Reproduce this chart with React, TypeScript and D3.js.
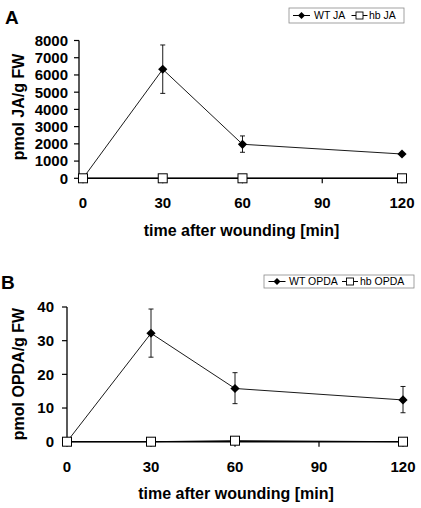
import React from "react";
import * as d3 from "d3";

// ---------- data ----------
const timePoints = [0, 30, 60, 120];
const xTicks = [0, 30, 60, 90, 120];

const wtJA = [0, 6330, 1975, 1410];
const wtJAUpper = [0, 7740, 2460, 1410];
const wtJALower = [0, 4930, 1510, 1410];
const hbJA = [0, 0, 0, 0];
const jaTicks = [0, 1000, 2000, 3000, 4000, 5000, 6000, 7000, 8000];

const wtOPDA = [0, 32.2, 15.8, 12.4];
const wtOPDAUpper = [0, 39.4, 20.5, 16.4];
const wtOPDALower = [0, 25.1, 11.3, 8.6];
const hbOPDA = [0, 0, 0.3, 0];
const opdaTicks = [0, 10, 20, 30, 40];

const FONT = "'Liberation Sans', Arial, Helvetica, sans-serif";

type PanelProps = {
  letter: string;
  letterX: number;
  letterY: number;
  yTitle: string;
  wt: number[];
  wtUp: number[];
  wtLo: number[];
  hb: number[];
  yTicks: number[];
  xDomainMin: number;
  axisX: number;
  xRight: number;
  yTop: number;
  yBottom: number;
  labelGap: number;
  titleCenterY: number;
  xTitleBaseline: number;
  legend: { x0: number; x1: number; y0: number; y1: number; wtSym: number; wtText: number; hbSym: number; hbText: number; wtLabel: string; hbLabel: string };
};

function Diamond({ cx, cy, r }: { cx: number; cy: number; r: number }) {
  return <path d={`M${cx},${cy - r}L${cx + r},${cy}L${cx},${cy + r}L${cx - r},${cy}Z`} fill="#000" />;
}

function Panel(p: PanelProps) {
  const x = d3.scaleLinear().domain([p.xDomainMin, 120]).range([p.axisX, p.xRight]);
  const y = d3.scaleLinear().domain([0, p.yTicks[p.yTicks.length - 1]]).range([p.yBottom, p.yTop]);
  const line = d3
    .line<number>()
    .x((_, i) => x(timePoints[i]))
    .y((d) => y(d));
  const lg = p.legend;
  const lgMid = (lg.y0 + lg.y1) / 2;
  return (
    <g>
      <text x={p.letterX} y={p.letterY} fontFamily={FONT} fontWeight="bold" fontSize={19}>
        {p.letter}
      </text>
      {/* legend */}
      <rect x={lg.x0} y={lg.y0} width={lg.x1 - lg.x0} height={lg.y1 - lg.y0} fill="#fff" stroke="#8a8a8a" strokeWidth={0.8} />
      <line x1={lg.wtSym - 8.5} x2={lg.wtSym + 8.5} y1={lgMid} y2={lgMid} stroke="#000" strokeWidth={1} />
      <Diamond cx={lg.wtSym} cy={lgMid} r={3.5} />
      <text x={lg.wtText} y={lgMid + 3.8} fontFamily={FONT} fontSize={10.5}>
        {lg.wtLabel}
      </text>
      <line x1={lg.hbSym - 8} x2={lg.hbSym + 8} y1={lgMid} y2={lgMid} stroke="#000" strokeWidth={1} />
      <rect x={lg.hbSym - 3.5} y={lgMid - 3.5} width={7} height={7} fill="#fff" stroke="#000" strokeWidth={0.9} />
      <text x={lg.hbText} y={lgMid + 3.8} fontFamily={FONT} fontSize={10.5}>
        {lg.hbLabel}
      </text>

      {/* y axis */}
      <line x1={p.axisX} x2={p.axisX} y1={y(p.yTicks[p.yTicks.length - 1])} y2={p.yBottom} stroke="#000" strokeWidth={1.3} />
      {p.yTicks.map((t) => (
        <g key={"y" + t}>
          <line x1={p.axisX - 5} x2={p.axisX} y1={y(t)} y2={y(t)} stroke="#000" strokeWidth={1.2} />
          <text x={p.axisX - p.labelGap} y={y(t)} dy="0.36em" textAnchor="end" fontFamily={FONT} fontWeight="bold" fontSize={15}>
            {t}
          </text>
        </g>
      ))}
      {/* x axis */}
      <line x1={p.axisX} x2={x(120)} y1={p.yBottom} y2={p.yBottom} stroke="#000" strokeWidth={1.6} />
      {xTicks.map((t) => (
        <g key={"x" + t}>
          <line x1={x(t)} x2={x(t)} y1={p.yBottom} y2={p.yBottom + 5} stroke="#000" strokeWidth={1.2} />
          <text x={x(t)} y={p.yBottom + 30} textAnchor="middle" fontFamily={FONT} fontWeight="bold" fontSize={15}>
            {t}
          </text>
        </g>
      ))}
      <text
        x={(p.axisX + p.xRight) / 2 + 1}
        y={p.xTitleBaseline}
        textAnchor="middle"
        fontFamily={FONT}
        fontWeight="bold"
        fontSize={16}
      >
        time after wounding [min]
      </text>
      <text
        transform={`translate(24,${p.titleCenterY}) rotate(-90)`}
        textAnchor="middle"
        fontFamily={FONT}
        fontWeight="bold"
        fontSize={16}
      >
        {p.yTitle}
      </text>

      {/* WT series */}
      <path d={line(p.wt) || ""} fill="none" stroke="#000" strokeWidth={0.9} />
      {timePoints.map((t, i) =>
        p.wtUp[i] !== p.wtLo[i] ? (
          <g key={"e" + t}>
            <line x1={x(t)} x2={x(t)} y1={y(p.wtUp[i])} y2={y(p.wtLo[i])} stroke="#000" strokeWidth={0.9} />
            <line x1={x(t) - 2.5} x2={x(t) + 2.5} y1={y(p.wtUp[i])} y2={y(p.wtUp[i])} stroke="#000" strokeWidth={0.9} />
            <line x1={x(t) - 2.5} x2={x(t) + 2.5} y1={y(p.wtLo[i])} y2={y(p.wtLo[i])} stroke="#000" strokeWidth={0.9} />
          </g>
        ) : null
      )}
      {timePoints.map((t, i) => (
        <Diamond key={"d" + t} cx={x(t)} cy={y(p.wt[i])} r={4.6} />
      ))}
      {/* hb series */}
      <path d={line(p.hb) || ""} fill="none" stroke="#000" strokeWidth={1} />
      {timePoints.map((t, i) => (
        <rect key={"s" + t} x={x(t) - 4.5} y={y(p.hb[i]) - 4.5} width={9} height={9} fill="#fff" stroke="#000" strokeWidth={1} />
      ))}
    </g>
  );
}

export default function App() {
  return (
    <svg width={421} height={508} style={{ position: "absolute", left: 0, top: 0, background: "#fff" }}>
      <rect x={0} y={0} width={421} height={508} fill="#fff" />
      <Panel
        letter="A"
        letterX={5}
        letterY={24}
        yTitle="pmol JA/g FW"
        wt={wtJA}
        wtUp={wtJAUpper}
        wtLo={wtJALower}
        hb={hbJA}
        yTicks={jaTicks}
        xDomainMin={-1.5}
        axisX={79}
        xRight={402}
        yTop={40.5}
        yBottom={178.3}
        labelGap={11}
        titleCenterY={107}
        xTitleBaseline={236}
        legend={{ x0: 289, x1: 404, y0: 8, y1: 23, wtSym: 301.5, wtText: 314, hbSym: 359.5, hbText: 369, wtLabel: "WT JA", hbLabel: "hb JA" }}
      />
      <Panel
        letter="B"
        letterX={1}
        letterY={289}
        yTitle="pmol OPDA/g FW"
        wt={wtOPDA}
        wtUp={wtOPDAUpper}
        wtLo={wtOPDALower}
        hb={hbOPDA}
        yTicks={opdaTicks}
        xDomainMin={0}
        axisX={67}
        xRight={403}
        yTop={307}
        yBottom={441.7}
        labelGap={13}
        titleCenterY={374}
        xTitleBaseline={499}
        legend={{ x0: 264, x1: 414, y0: 275, y1: 288, wtSym: 277, wtText: 289, hbSym: 350, hbText: 360, wtLabel: "WT OPDA", hbLabel: "hb OPDA" }}
      />
    </svg>
  );
}
